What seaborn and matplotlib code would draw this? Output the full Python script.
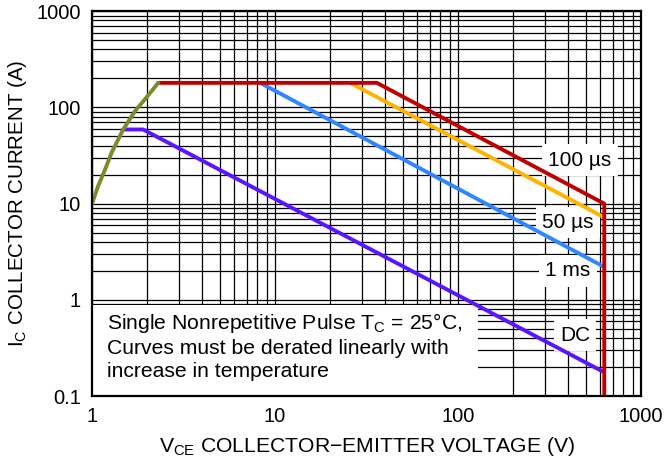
import numpy as np
import pandas as pd
import matplotlib
matplotlib.use("Agg")
import matplotlib.pyplot as plt
import seaborn as sns
from matplotlib.ticker import LogLocator, NullFormatter

# safe operating area curves
vce_limit = [1, 1.08, 1.18, 1.28, 1.48, 1.72, 1.95, 2.3]
ic_limit = [10, 15.3, 22.8, 34, 59, 92, 122, 180]

vce_100us = [2.3, 36, 630, 630]
ic_100us = [180, 180, 10, 0.1]

vce_50us = [25.7, 630]
ic_50us = [180, 7.2]

vce_1ms = [8.3, 630]
ic_1ms = [180, 2.2]

vce_dc = [1.48, 1.9, 630]
ic_dc = [59, 59, 0.177]

curve_labels = ["100 \u00b5s", "50 \u00b5s", "1 ms", "DC"]
label_vce = [464, 399, 399, 436]
label_ic = [28.3, 6.4, 2.0, 0.43]

x_ticks = [1, 10, 100, 1000]
x_ticklabels = ["1", "10", "100", "1000"]
y_ticks = [0.1, 1, 10, 100, 1000]
y_ticklabels = ["0.1", "1", "10", "100", "1000"]

sns.set_style("white")
plt.rcParams['font.family'] = ['Liberation Sans', 'DejaVu Sans']
plt.rcParams['mathtext.fontset'] = 'custom'
plt.rcParams['mathtext.rm'] = 'Liberation Sans'
plt.rcParams['text.color'] = 'black'
plt.rcParams['axes.labelcolor'] = 'black'
plt.rcParams['xtick.color'] = 'black'
plt.rcParams['ytick.color'] = 'black'

fig = plt.figure(figsize=(6.67, 4.65), dpi=100)
ax = fig.add_axes([0.138, 0.148, 0.823, 0.828])
ax.set_xscale("log")
ax.set_yscale("log")
ax.set_xlim(1, 1000)
ax.set_ylim(0.1, 1000)

# black log grid, kept below everything
ax.set_axisbelow(True)
ax.xaxis.set_minor_locator(LogLocator(base=10, subs=np.arange(2, 10)))
ax.yaxis.set_minor_locator(LogLocator(base=10, subs=np.arange(2, 10)))
ax.xaxis.set_minor_formatter(NullFormatter())
ax.yaxis.set_minor_formatter(NullFormatter())
ax.grid(which="both", color="black", linewidth=0.9)
ax.set_xticks(x_ticks, x_ticklabels)
ax.set_yticks(y_ticks, y_ticklabels)
ax.tick_params(which="both", length=0, labelsize=14.5, pad=8, labelcolor="black")

# note box hides the grid
ax.add_patch(plt.Rectangle((0, 0), 0.703, 0.236, transform=ax.transAxes,
                           facecolor="white", edgecolor="none", zorder=1))
ax.text(0.027, 0.13,
        "Single Nonrepetitive Pulse T$_\\mathregular{C}$ = 25\u00b0C,\n"
        "Curves must be derated linearly with\nincrease in temperature",
        transform=ax.transAxes, ha="left", va="center", fontsize=15.2,
        linespacing=1.25, zorder=1.5, color="black")

lw = 2.8
sns.lineplot(x=vce_50us, y=ic_50us, sort=False, estimator=None, ax=ax,
             color="#ffb400", lw=lw, zorder=3)
sns.lineplot(x=vce_1ms, y=ic_1ms, sort=False, estimator=None, ax=ax,
             color="#2f86ff", lw=lw, zorder=3)
sns.lineplot(x=vce_100us, y=ic_100us, sort=False, estimator=None, ax=ax,
             color="#c00000", lw=lw, zorder=4)
sns.lineplot(x=vce_dc, y=ic_dc, sort=False, estimator=None, ax=ax,
             color="#5a14ff", lw=lw, zorder=3)
sns.lineplot(x=vce_limit, y=ic_limit, sort=False, estimator=None, ax=ax,
             color="#7d8a2b", lw=lw, zorder=5)

for lab, xv, yv in zip(curve_labels, label_vce, label_ic):
    ax.text(xv, yv, lab, ha="center", va="center", fontsize=15, zorder=2, color="black",
            bbox=dict(boxstyle="square,pad=0.3", facecolor="white", edgecolor="none"))

ax.set_xlabel("V$_\\mathregular{CE}$ COLLECTOR\u2212EMITTER VOLTAGE (V)", fontsize=15.2,
              labelpad=6, color="black")
ax.set_ylabel("I$_\\mathregular{C}$ COLLECTOR CURRENT (A)", fontsize=14.8,
              labelpad=5, color="black")

# overlay axes for frame and inward ticks that show over the note box
ov = fig.add_axes(ax.get_position(), sharex=ax, sharey=ax, facecolor="none")
ov.tick_params(which="both", direction="in", labelleft=False, labelbottom=False,
               length=6, width=0.9, color="black")
ov.tick_params(which="minor", length=5)
for s in ov.spines.values():
    s.set_linewidth(1.6)
    s.set_color("black")
for s in ax.spines.values():
    s.set_visible(False)
ov.set_xlabel("")
ov.set_ylabel("")

fig.savefig("out.png", dpi=100)
